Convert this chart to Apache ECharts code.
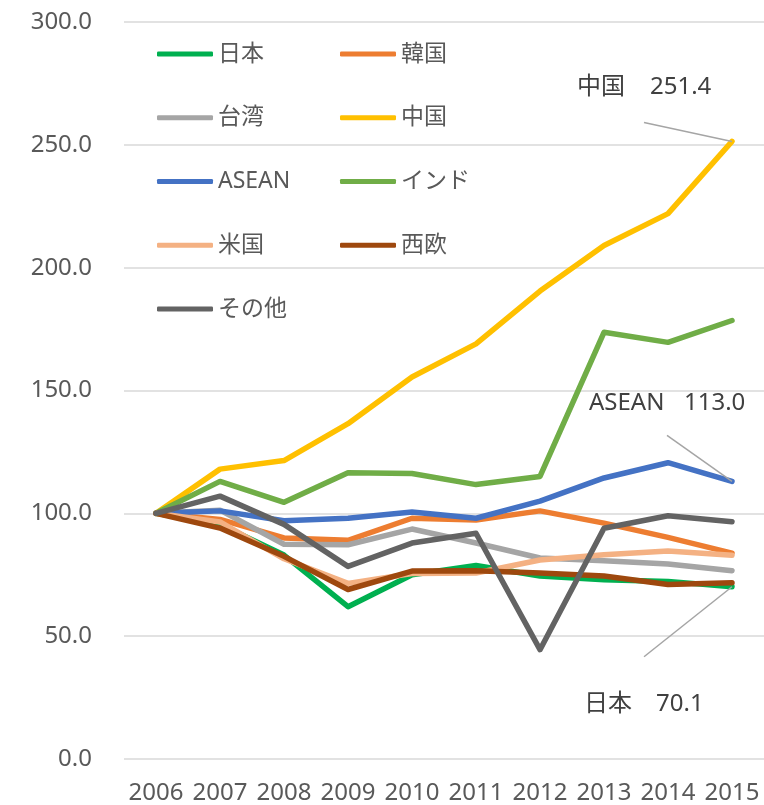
<!DOCTYPE html>
<html>
<head>
<meta charset="utf-8">
<script src="https://cdn.jsdelivr.net/npm/echarts@6/dist/echarts.min.js"></script>
<style>
  html, body { margin: 0; padding: 0; background: #fff; }
  #main { width: 764px; height: 805px; }
</style>
</head>
<body>
<div id="main"></div>
<script>
const years = ['2006', '2007', '2008', '2009', '2010', '2011', '2012', '2013', '2014', '2015'];

const japan  = [100, 95.5, 83, 62, 75, 78.8, 74.5, 73, 72.3, 70.1];
const korea  = [100, 97.5, 90, 89, 98, 97.3, 101, 96, 90.2, 83.8];
const taiwan = [100, 101.3, 87.4, 87.2, 93.6, 87.9, 81.8, 80.7, 79.4, 76.6];
const china  = [100, 118, 121.5, 136.5, 155.5, 169, 190.5, 209, 222, 251.4];
const asean  = [100, 101, 97, 98, 100.5, 98, 105, 114.4, 120.6, 113.0];
const india  = [100, 113, 104.5, 116.5, 116.2, 111.7, 115, 173.7, 169.6, 178.5];
const usa    = [100, 96.5, 81.5, 71.5, 75.5, 75.7, 81, 83.1, 84.7, 82.9];
const weu    = [100, 94, 82.5, 69, 76.5, 76.6, 75.7, 74.5, 71, 71.7];
const other  = [100, 107, 95.5, 78.4, 87.9, 91.9, 44.5, 93.9, 99, 96.6];

const names  = ['日本', '韓国', '台湾', '中国', 'ASEAN', 'インド', '米国', '西欧', 'その他'];
const values = [japan, korea, taiwan, china, asean, india, usa, weu, other];
const colors = ['#00B050', '#ED7D31', '#A5A5A5', '#FFC000', '#4472C4', '#70AD47', '#F4B183', '#9E480E', '#636363'];

const yTicks = [0, 50, 100, 150, 200, 250, 300];

// callouts: series name, label text
const callouts = [
  { name: '中国', value: '251.4', line: [-88, -19], nameX: -155, valX: -82, textY: -54 },
  { name: 'ASEAN', value: '113.0', line: [-65, -46], nameX: -143, valX: -48, textY: -78 },
  { name: '日本', value: '70.1', line: [-88, 70], nameX: -148, valX: -76, textY: 117 }
];

const font = '"Noto Sans", "Noto Sans CJK JP", sans-serif';

let chart = echarts.init(document.getElementById('main'));

let legendBase = {
  orient: 'vertical',
  top: 37,
  padding: 5,
  itemWidth: 56,
  itemHeight: 5,
  itemGap: 39.75,
  icon: 'roundRect',
  selectedMode: false,
  textStyle: {
    fontFamily: font,
    fontSize: 23,
    lineHeight: 24,
    color: '#595959'
  }
};

let option = {
  backgroundColor: '#ffffff',
  color: colors,
  animation: false,
  textStyle: { fontFamily: font },
  grid: {
    left: 124,
    right: 0,
    top: 22,
    bottom: 43,
    containLabel: false
  },
  legend: [
    Object.assign({}, legendBase, { left: 152, data: ['日本', '台湾', 'ASEAN', '米国', 'その他'] }),
    Object.assign({}, legendBase, { left: 335, data: ['韓国', '中国', 'インド', '西欧'] })
  ],
  xAxis: {
    type: 'category',
    boundaryGap: true,
    data: years,
    axisLine: { show: false },
    axisTick: { show: false },
    axisLabel: {
      color: '#595959',
      fontSize: 24,
      fontFamily: font,
      margin: 22,
      interval: 0
    }
  },
  yAxis: {
    type: 'value',
    min: yTicks[0],
    max: yTicks[yTicks.length - 1],
    interval: 50,
    axisLine: { show: false },
    axisTick: { show: false },
    axisLabel: {
      color: '#595959',
      fontSize: 24,
      fontFamily: font,
      margin: 32,
      formatter: v => v.toFixed(1)
    },
    splitLine: {
      lineStyle: { color: '#D9D9D9', width: 1.5 }
    }
  },
  series: names.map((n, i) => ({
    name: n,
    type: 'line',
    data: values[i],
    symbol: 'none',
    smooth: false,
    lineStyle: { width: 5.5, color: colors[i], cap: 'round', join: 'round' },
    itemStyle: { color: colors[i] },
    z: 2 + i
  }))
};

chart.setOption(option);

// 注釈（引き出し線とラベル）
let graphics = [];
callouts.forEach(c => {
  let idx = names.indexOf(c.name);
  let last = years.length - 1;
  let p = chart.convertToPixel({ seriesIndex: idx }, [last, values[idx][last]]);
  graphics.push({
    type: 'line',
    z: 50,
    shape: { x1: p[0] + c.line[0], y1: p[1] + c.line[1], x2: p[0], y2: p[1] },
    style: { stroke: '#A5A5A5', lineWidth: 1.5 }
  });
  graphics.push({
    type: 'text',
    z: 50,
    x: p[0] + c.nameX,
    y: p[1] + c.textY,
    style: { text: c.name, fontSize: 24, fontFamily: font, fill: '#404040', verticalAlign: 'middle' }
  });
  graphics.push({
    type: 'text',
    z: 50,
    x: p[0] + c.valX,
    y: p[1] + c.textY,
    style: { text: c.value, fontSize: 24, fontFamily: font, fill: '#404040', verticalAlign: 'middle' }
  });
});
chart.setOption({ graphic: graphics });
</script>
</body>
</html>
